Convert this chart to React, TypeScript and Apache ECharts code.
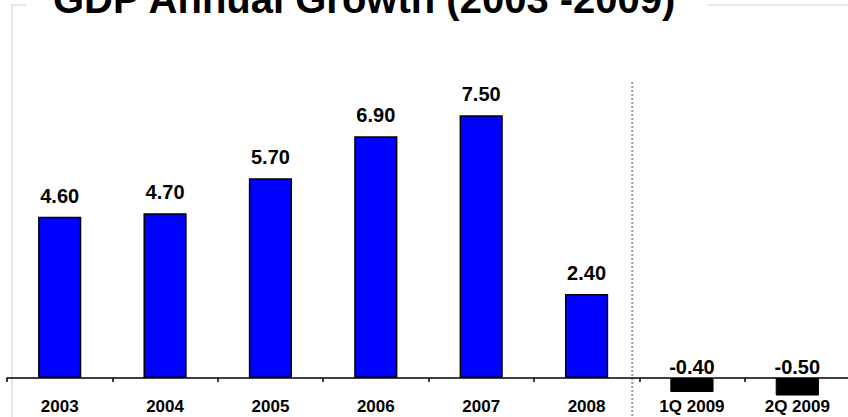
import React, { useEffect, useRef } from "react";
import * as echarts from "echarts";

const categories = ["2003", "2004", "2005", "2006", "2007", "2008", "1Q 2009", "2Q 2009"];
const growth = [4.6, 4.7, 5.7, 6.9, 7.5, 2.4, -0.4, -0.5];
const titleText = "GDP Annual Growth (2003 -2009)";

const FONT = "'Liberation Sans', Arial, sans-serif";

export default function App() {
  const ref = useRef<HTMLDivElement>(null);
  useEffect(() => {
    if (!ref.current) return;
    const chart = echarts.init(ref.current, null, { renderer: "svg" });
    const option: any = {
      animation: false,
      backgroundColor: "#ffffff",
      title: {
        text: titleText,
        left: 48,
        top: -26,
        textStyle: { fontFamily: FONT, fontSize: 40, fontWeight: "bold", color: "#000" },
      },
      grid: { left: 7, right: -2, top: 27.5, bottom: 39, containLabel: false, outerBoundsMode: "none" },
      xAxis: {
        type: "category",
        data: categories,
        axisLine: { onZero: true, lineStyle: { color: "#000", width: 1.5 } },
        axisTick: { show: true, length: 4, inside: false, lineStyle: { color: "#000", width: 1.5 } },
        axisLabel: { fontFamily: FONT, fontSize: 17, fontWeight: "bold", color: "#000", margin: 20, interval: 0 },
        splitLine: { show: false },
      },
      yAxis: { type: "value", min: 0, max: 10, show: false, splitLine: { show: false } },
      series: [
        {
          type: "bar",
          barWidth: "41%",
          clip: false,
          data: growth.map((v) => ({
            value: v,
            itemStyle: v >= 0 ? { color: "#0000ff", borderColor: "#000", borderWidth: 1.5 } : { color: "#000", borderColor: "#000", borderWidth: 1 },
            label: { distance: v >= 0 ? 11 : 1 },
          })),
          label: {
            show: true,
            position: "top",
            fontFamily: FONT,
            fontSize: 20,
            fontWeight: "bold",
            color: "#000",
            formatter: (p: any) => Number(p.value).toFixed(2),
          },
        },
      ],
    };
    chart.setOption(option);
    const left = chart.convertToPixel({ xAxisIndex: 0 }, 5) as number;
    const right = chart.convertToPixel({ xAxisIndex: 0 }, 6) as number;
    const sepX = (left + right) / 2 - 7;
    chart.setOption({
      graphic: [
        { type: "line", shape: { x1: 12, y1: 5, x2: 12, y2: 417 }, style: { stroke: "#e6e6e6", lineWidth: 2 }, silent: true, z: -1 },
        { type: "line", shape: { x1: 11, y1: 5, x2: 26, y2: 5 }, style: { stroke: "#e6e6e6", lineWidth: 2 }, silent: true, z: -1 },
        { type: "line", shape: { x1: 708, y1: 5, x2: 848, y2: 5 }, style: { stroke: "#e6e6e6", lineWidth: 2 }, silent: true, z: -1 },
        { type: "line", shape: { x1: sepX, y1: 82, x2: sepX, y2: 417 }, style: { stroke: "#9a9a9a", lineWidth: 2, lineDash: [2, 2] }, silent: true },
      ],
    });
    return () => chart.dispose();
  }, []);
  return <div ref={ref} style={{ position: "fixed", left: 0, top: 0, width: 848, height: 417 }} />;
}
